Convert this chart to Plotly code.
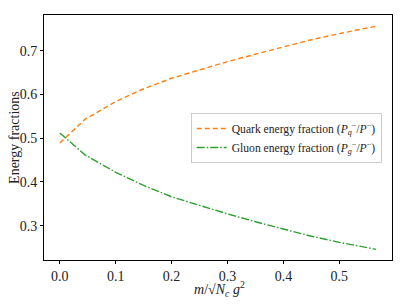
import plotly.graph_objects as go

m_vals = [0.0, 0.045, 0.1, 0.15, 0.2, 0.25, 0.3, 0.35, 0.4, 0.45, 0.5, 0.566]
quark = [0.489, 0.543, 0.584, 0.613, 0.637, 0.656, 0.675, 0.692, 0.709, 0.725, 0.739, 0.756]
gluon = [0.512, 0.462, 0.422, 0.392, 0.366, 0.346, 0.327, 0.309, 0.292, 0.276, 0.262, 0.246]
x_ticks = [0.0, 0.1, 0.2, 0.3, 0.4, 0.5]
y_ticks = [0.3, 0.4, 0.5, 0.6, 0.7]

FONT = "Liberation Serif"

fig = go.Figure()
fig.add_trace(go.Scatter(
    x=m_vals, y=quark, mode="lines",
    name="Quark energy fraction (<i>P</i><sub><i>q</i></sub><sup>−</sup>/<i>P</i><sup>−</sup>)",
    line=dict(color="#ff7f0e", width=1.4, dash="5px,3px"),
))
fig.add_trace(go.Scatter(
    x=m_vals, y=gluon, mode="lines",
    name="Gluon energy fraction (<i>P</i><sub><i>g</i></sub><sup>−</sup>/<i>P</i><sup>−</sup>)",
    line=dict(color="#2ca02c", width=1.4, dash="8px,2px,1.5px,2px"),
))

axis_common = dict(
    showgrid=False, zeroline=False, showline=True, linecolor="black", linewidth=0.8,
    mirror=True, ticks="outside", ticklen=3, tickwidth=0.8, tickcolor="black",
    tickfont=dict(family=FONT, size=14, color="#222"), automargin=False,
)
fig.update_xaxes(range=[-0.0283, 0.5943], tickvals=x_ticks, tickformat=".1f", **axis_common)
fig.update_yaxes(range=[0.2216, 0.7816], tickvals=y_ticks, tickformat=".1f", **axis_common)

fig.add_annotation(text="<i>m</i>/√<i>N</i><sub><i>c</i></sub><i> g</i><sup>2</sup>",
                   xref="paper", yref="paper", x=0.503, y=-0.118,
                   xanchor="center", yanchor="middle", showarrow=False,
                   font=dict(family=FONT, size=14, color="#222"))
fig.add_annotation(text="Energy fractions",
                   xref="paper", yref="paper", x=-0.085, y=0.5, textangle=-90,
                   xanchor="center", yanchor="middle", showarrow=False,
                   font=dict(family=FONT, size=14, color="#222"))

fig.update_layout(
    width=399, height=297,
    margin=dict(l=36, r=15, t=7, b=45),
    paper_bgcolor="white", plot_bgcolor="white",
    showlegend=True,
    legend=dict(x=0.4216, y=0.60, xanchor="left", yanchor="top",
                bgcolor="rgba(255,255,255,0.8)", bordercolor="#cccccc", borderwidth=1,
                font=dict(family=FONT, size=11.6, color="#222"),
                itemwidth=30, tracegroupgap=0),
)

fig.write_html("out.html")
